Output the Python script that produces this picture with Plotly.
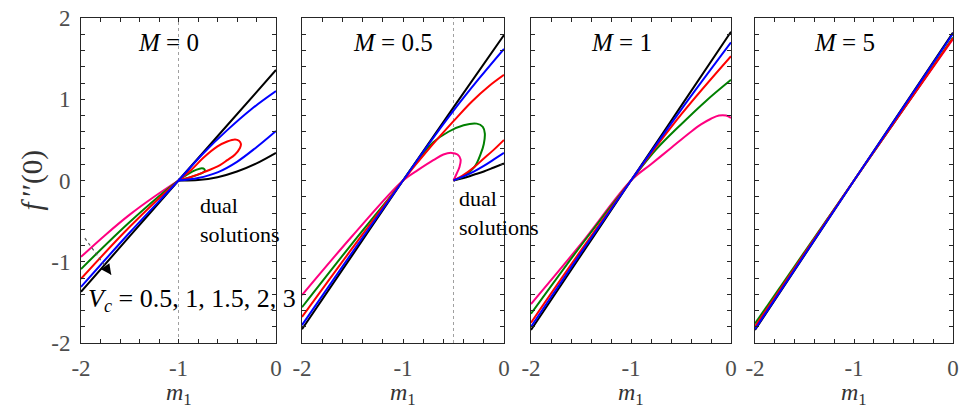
import plotly.graph_objects as go

# ---------------- data ----------------
PANEL_TITLES = ["<i>M</i>\u2005=\u20050", "<i>M</i>\u2005=\u20050.5", "<i>M</i>\u2005=\u20051", "<i>M</i>\u2005=\u20055"]
VC_ORDER = ["black", "pink", "green", "red", "blue"]
COLORS = {"pink": "#FF0080", "green": "#008000", "red": "#FF0000", "blue": "#0000FF", "black": "#000000"}
X_TICKS = [-2, -1, 0]
X_TICKTEXT = ["-2", "-1", "0"]
Y_TICKS = [-2, -1, 0, 1, 2]
Y_TICKTEXT = ["-2", "-1", "0", "1", "2"]
GUIDE_X = [-1.0, -0.5, None, None]   # dotted vertical guide per panel

# M = 0
M0_black_x = [-2, -1.5, -1, -0.5, 0, None, -1, -0.8, -0.6, -0.4, -0.2, 0]
M0_black_y = [-1.37, -0.685, 0, 0.68, 1.36, None, 0, 0.005, 0.04, 0.11, 0.21, 0.34]
M0_blue_x = [-2, -1.5, -1, -0.75, -0.5, -0.25, 0, None, -1, -0.8, -0.6, -0.4, -0.2, 0]
M0_blue_y = [-1.31, -0.64, 0, 0.33, 0.62, 0.88, 1.10, None, 0, 0.03, 0.10, 0.23, 0.41, 0.61]
M0_red_x = [-2, -1.5, -1, -0.87, -0.745, -0.6, -0.5, -0.42, -0.38, -0.36, -0.37, -0.42, -0.5, -0.574, -0.745, -0.88, -1]
M0_red_y = [-1.21, -0.57, 0, 0.13, 0.28, 0.42, 0.48, 0.505, 0.49, 0.45, 0.40, 0.32, 0.25, 0.19, 0.10, 0.04, 0]
M0_green_x = [-2, -1.5, -1, -0.9, -0.82, -0.76, -0.735, -0.73, -0.76, -0.83, -0.92, -1]
M0_green_y = [-1.09, -0.51, 0, 0.08, 0.13, 0.15, 0.14, 0.12, 0.09, 0.06, 0.025, 0]
M0_pink_x = [-2, -1.75, -1.5, -1.25, -1]
M0_pink_y = [-0.94, -0.67, -0.42, -0.20, 0]

# M = 0.5
M05_black_x = [-2, -1.5, -1, -0.5, 0, None, -0.5, -0.4, -0.3, -0.2, -0.1, 0]
M05_black_y = [-1.83, -0.915, 0, 0.90, 1.79, None, 0, 0.03, 0.07, 0.11, 0.16, 0.21]
M05_blue_x = [-2, -1.5, -1, -0.75, -0.5, -0.25, 0, None, -0.5, -0.4, -0.3, -0.2, -0.1, 0]
M05_blue_y = [-1.78, -0.88, 0, 0.44, 0.86, 1.25, 1.62, None, 0, 0.05, 0.11, 0.18, 0.26, 0.34]
M05_red_x = [-2, -1.5, -1, -0.75, -0.5, -0.32, -0.15, 0, None, -0.5, -0.4, -0.3, -0.2, -0.1, 0]
M05_red_y = [-1.68, -0.83, 0, 0.38, 0.73, 0.97, 1.16, 1.30, None, 0, 0.07, 0.16, 0.27, 0.38, 0.50]
M05_green_x = [-2, -1.5, -1, -0.86, -0.7, -0.55, -0.4, -0.27, -0.21, -0.19, -0.2, -0.23, -0.29, -0.38, -0.5]
M05_green_y = [-1.56, -0.77, 0, 0.24, 0.47, 0.60, 0.68, 0.70, 0.66, 0.58, 0.45, 0.33, 0.17, 0.07, 0]
M05_pink_x = [-2, -1.5, -1, -0.85, -0.7, -0.6, -0.52, -0.46, -0.43, -0.44, -0.47, -0.5]
M05_pink_y = [-1.41, -0.68, 0, 0.13, 0.25, 0.32, 0.34, 0.32, 0.26, 0.17, 0.08, 0]

# M = 1
M1_black_x = [-2, -1.5, -1, -0.5, 0]
M1_black_y = [-1.84, -0.92, 0, 0.915, 1.83]
M1_blue_x = [-2, -1.5, -1, -0.5, 0]
M1_blue_y = [-1.80, -0.89, 0, 0.87, 1.70]
M1_red_x = [-2, -1.5, -1, -0.5, 0]
M1_red_y = [-1.75, -0.86, 0, 0.81, 1.53]
M1_green_x = [-2, -1.5, -1, -0.75, -0.5, -0.25, 0]
M1_green_y = [-1.64, -0.80, 0, 0.38, 0.69, 0.98, 1.24]
M1_pink_x = [-2, -1.5, -1, -0.8, -0.6, -0.4, -0.3, -0.2, -0.12, -0.05, 0]
M1_pink_y = [-1.52, -0.78, 0, 0.20, 0.40, 0.60, 0.69, 0.76, 0.80, 0.80, 0.77]

# M = 5
M5_black_x = [-2, -1, 0]
M5_black_y = [-1.84, 0, 1.82]
M5_blue_x = [-2, -1, 0]
M5_blue_y = [-1.83, 0, 1.81]
M5_green_x = [-2, -1, 0]
M5_green_y = [-1.76, 0, 1.76]
M5_red_x = [-2, -1, 0]
M5_red_y = [-1.80, 0, 1.75]
M5_pink_x = [-2, -1, 0]
M5_pink_y = [-1.80, 0, 1.74]

ARROW_X = [-1.96, -1.69]
ARROW_Y = [-0.71, -1.16]

PANELS = [
    {"black": (M0_black_x, M0_black_y), "blue": (M0_blue_x, M0_blue_y), "red": (M0_red_x, M0_red_y),
     "green": (M0_green_x, M0_green_y), "pink": (M0_pink_x, M0_pink_y)},
    {"black": (M05_black_x, M05_black_y), "blue": (M05_blue_x, M05_blue_y), "red": (M05_red_x, M05_red_y),
     "green": (M05_green_x, M05_green_y), "pink": (M05_pink_x, M05_pink_y)},
    {"black": (M1_black_x, M1_black_y), "blue": (M1_blue_x, M1_blue_y), "red": (M1_red_x, M1_red_y),
     "green": (M1_green_x, M1_green_y), "pink": (M1_pink_x, M1_pink_y)},
    {"black": (M5_black_x, M5_black_y), "blue": (M5_blue_x, M5_blue_y), "red": (M5_red_x, M5_red_y),
     "green": (M5_green_x, M5_green_y), "pink": (M5_pink_x, M5_pink_y)},
]

# ---------------- figure ----------------
# the page body adds an 8 px offset; the figure is sized so that the plot areas land
# at the reference's screen positions
OFF = 8
W, H = 967 - OFF, 410 - OFF
ML, MR, MT, MB = 81 - OFF, 14, 18 - OFF, 67
PW = W - ML - MR
PH = H - MT - MB
PX = [(81, 276), (302, 504), (531, 731), (755, 953)]   # screen px of panel edges
DOMAINS = [((a - OFF - ML) / PW, (b - OFF - ML) / PW) for a, b in PX]

SERIF = "Liberation Serif, Times New Roman, serif"
TICKCOL = "#4d4d4d"
AXCOL = "#262626"

fig = go.Figure()
for i, panel in enumerate(PANELS):
    xa = "x" if i == 0 else f"x{i+1}"
    ya = "y" if i == 0 else f"y{i+1}"
    if GUIDE_X[i] is not None:
        fig.add_trace(go.Scatter(x=[GUIDE_X[i], GUIDE_X[i]], y=[-2, 2], mode="lines",
                                 line=dict(color="#a0a0a0", width=1, dash="dot"),
                                 xaxis=xa, yaxis=ya, showlegend=False, hoverinfo="skip"))
    for name in VC_ORDER:
        xs, ys = panel[name]
        fig.add_trace(go.Scatter(x=xs, y=ys, mode="lines",
                                 line=dict(color=COLORS[name], width=2, shape="spline", smoothing=1.0),
                                 xaxis=xa, yaxis=ya, showlegend=False, connectgaps=False))

for i in range(4):
    xkey = "xaxis" if i == 0 else f"xaxis{i+1}"
    ykey = "yaxis" if i == 0 else f"yaxis{i+1}"
    xa = "x" if i == 0 else f"x{i+1}"
    ya = "y" if i == 0 else f"y{i+1}"
    fig.layout[xkey] = dict(
        domain=list(DOMAINS[i]), anchor=ya, range=[-2, 0], automargin=False,
        tickmode="array", tickvals=X_TICKS, ticktext=X_TICKTEXT,
        ticks="inside", ticklen=4, tickcolor=AXCOL, tickwidth=1,
        minor=dict(tickmode="linear", tick0=-2, dtick=0.2, ticks="inside", ticklen=4, tickcolor=AXCOL),
        showline=True, linecolor=AXCOL, linewidth=1, mirror="allticks",
        showgrid=False, zeroline=False, ticklabeloverflow="allow",
        tickfont=dict(family=SERIF, size=23, color=TICKCOL),
        ticklabelstandoff=4,
    )
    fig.layout[ykey] = dict(
        domain=[0, 1], anchor=xa, range=[-2, 2], automargin=False,
        tickmode="array", tickvals=Y_TICKS, ticktext=Y_TICKTEXT,
        ticks="inside", ticklen=4, tickcolor=AXCOL, tickwidth=1,
        minor=dict(tickmode="linear", tick0=-2, dtick=0.2, ticks="inside", ticklen=4, tickcolor=AXCOL),
        showline=True, linecolor=AXCOL, linewidth=1, mirror="allticks",
        showgrid=False, zeroline=False, showticklabels=(i == 0), ticklabeloverflow="allow",
        tickfont=dict(family=SERIF, size=23, color=TICKCOL),
        ticklabelstandoff=5,
    )
    fig.add_annotation(x=-1.1, y=1.70, xref=xa, yref=ya, text=PANEL_TITLES[i], showarrow=False,
                       font=dict(family=SERIF, size=25, color="black"), xanchor="center", yanchor="middle")
    # x-axis title m_1 below each panel
    fig.add_annotation(x=sum(DOMAINS[i]) / 2, y=-(394 - 343) / PH, xref="paper", yref="paper",
                       text="<i>m</i><sub>1</sub>", showarrow=False, xanchor="center", yanchor="middle",
                       font=dict(family=SERIF, size=24, color="#333333"))

# y-axis title
fig.add_annotation(x=(32 - 81) / PW, y=0.5, xref="paper", yref="paper", text="<i>f</i>\u2009′′(0)",
                   textangle=-90, showarrow=False, xanchor="center", yanchor="middle",
                   font=dict(family=SERIF, size=29, color="#333333"))

fig.add_annotation(x=-0.8, y=-0.49, xref="x", yref="y", text="dual<br>solutions", showarrow=False,
                   align="left", xanchor="left", yanchor="middle",
                   font=dict(family=SERIF, size=22, color="black"))
fig.add_annotation(x=-0.47, y=-0.40, xref="x2", yref="y2", text="dual<br>solutions", showarrow=False,
                   align="left", xanchor="left", yanchor="middle",
                   font=dict(family=SERIF, size=22, color="black"))
fig.add_annotation(x=-1.95, y=-1.47, xref="x", yref="y", text="<i>V<sub>c</sub></i> = 0.5, 1, 1.5, 2, 3",
                   showarrow=False, xanchor="left", yanchor="middle",
                   font=dict(family=SERIF, size=26, color="black"))
# dotted arrow
fig.add_trace(go.Scatter(x=ARROW_X, y=ARROW_Y, mode="lines", line=dict(color="#555555", width=1.2, dash="dot"),
                         xaxis="x", yaxis="y", showlegend=False, hoverinfo="skip"))
fig.add_annotation(x=ARROW_X[1], y=ARROW_Y[1], ax=ARROW_X[1] - 0.03, ay=ARROW_Y[1] + 0.05,
                   xref="x", yref="y", axref="x", ayref="y", text="", showarrow=True,
                   arrowhead=2, arrowsize=1.6, arrowwidth=1.3, arrowcolor="black", standoff=0)

fig.update_layout(width=W, height=H, margin=dict(l=ML, r=MR, t=MT, b=MB, autoexpand=False),
                  paper_bgcolor="white", plot_bgcolor="white", showlegend=False)
fig.write_html("out.html")
